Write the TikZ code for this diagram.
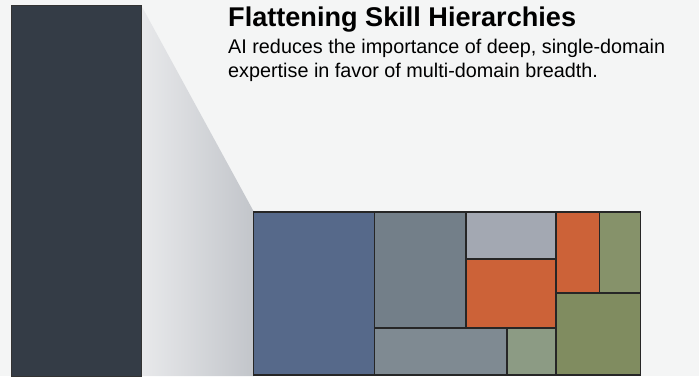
\documentclass[tikz,border=0pt]{standalone}
\usepackage{fontspec}
\setmainfont{Liberation Sans}
\definecolor{bg}{HTML}{F4F5F5}
\definecolor{bar}{HTML}{343C46}
\definecolor{cblue}{HTML}{56698A}
\definecolor{cgray}{HTML}{737F89}
\definecolor{clight}{HTML}{A3A8B2}
\definecolor{corange}{HTML}{CC6238}
\definecolor{cgreen}{HTML}{86926A}
\definecolor{cgreenb}{HTML}{808C60}
\definecolor{cgrayb}{HTML}{7F8A92}
\definecolor{csage}{HTML}{8C9B84}
\definecolor{shl}{HTML}{E8E9EB}
\definecolor{shd}{HTML}{C2C5CA}
\begin{document}
\begin{tikzpicture}[x=1pt,y=-1pt,
  cell/.style={draw=black!85,line width=1.1pt},
  ttl/.style={anchor=base west,inner sep=0pt,font=\fontsize{27.1}{32}\selectfont\bfseries},
  sub/.style={anchor=base west,inner sep=0pt,font=\fontsize{19.8}{24}\selectfont}]
\fill[bg] (0,0) rectangle (699,376);
\useasboundingbox (0,0) rectangle (699,376);
% shadow
\shade[left color=shl,right color=shd] (141,5) -- (254,212) -- (254,376) -- (141,376) -- cycle;
% tall bar
\fill[bar,draw=black!80,line width=0.6pt] (11,5) rectangle (141,376);
% treemap
\fill[cell,fill=cblue]   (253.5,212) rectangle (374.5,375);
\fill[cell,fill=cgray]   (374.5,212) rectangle (466,328);
\fill[cell,fill=clight]  (466,212) rectangle (556,259);
\fill[cell,fill=corange] (466,259) rectangle (556,328);
\fill[cell,fill=corange] (556,212) rectangle (599.5,293);
\fill[cell,fill=cgreen]  (599.5,212) rectangle (640.5,293);
\fill[cell,fill=cgreenb] (556,293) rectangle (640.5,375);
\fill[cell,fill=cgrayb]  (374.5,328) rectangle (507,375);
\fill[cell,fill=csage]   (507,328) rectangle (556,375);
% texts
\node[ttl] (title) at (228,26) {Flattening Skill Hierarchies};
\node[sub] (sub1) at (228,53) {AI reduces the importance of deep, single-domain};
\node[sub] (sub2) at (228,77) {expertise in favor of multi-domain breadth.};
\end{tikzpicture}
\end{document}
